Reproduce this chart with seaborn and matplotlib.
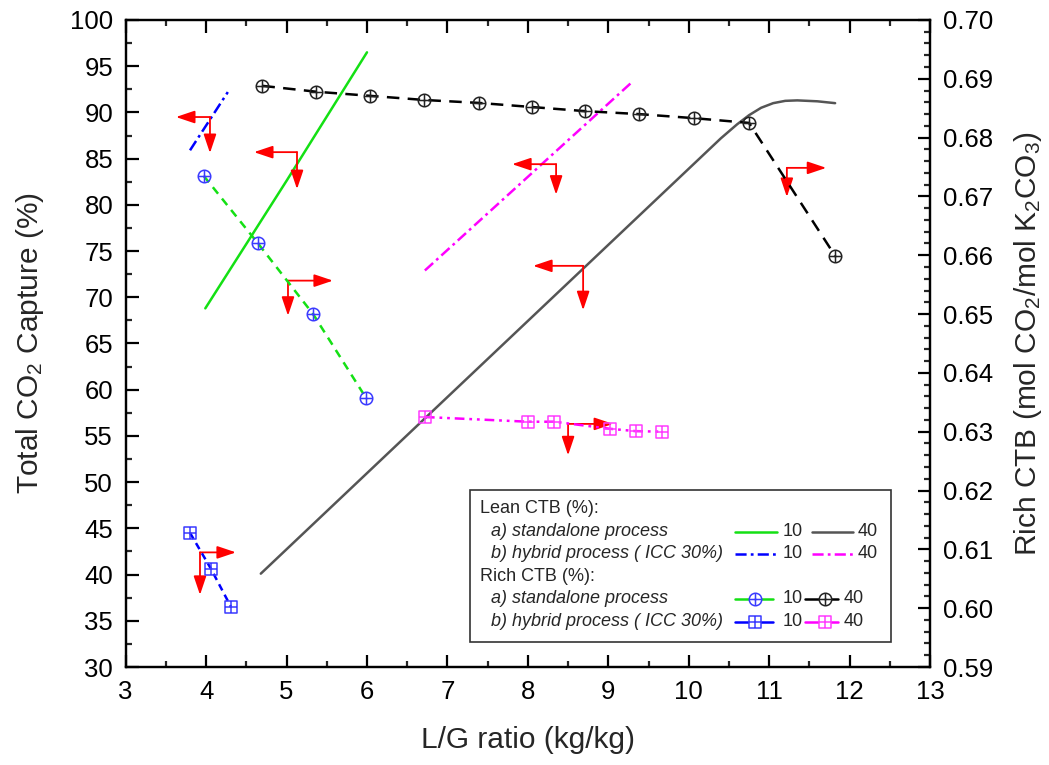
import numpy as np
import matplotlib
matplotlib.use("Agg")
import matplotlib.pyplot as plt
from matplotlib.path import Path
from matplotlib.lines import Line2D
from matplotlib.patches import Rectangle
from matplotlib.ticker import MultipleLocator
import seaborn as sns

# ---- Lean CTB (%) curves: total CO2 capture (%) vs L/G ratio ----
lean_sa10_x = [3.99, 5.00, 6.00]
lean_sa10_y = [68.8, 82.6, 96.5]
lean_sa40_x = [4.68, 9.89, 10.40, 10.60, 10.75, 10.90, 11.05, 11.20, 11.35, 11.60, 11.82]
lean_sa40_y = [40.1, 83.0, 87.2, 88.7, 89.7, 90.5, 91.0, 91.25, 91.3, 91.2, 91.0]
lean_hy10_x = [3.80, 4.27]
lean_hy10_y = [85.9, 92.2]
lean_hy40_x = [6.72, 9.31]
lean_hy40_y = [72.9, 93.4]

# ---- Rich CTB (mol CO2/mol K2CO3) vs L/G ratio ----
rich_sa10_x = [3.97, 4.64, 5.33, 5.99]
rich_sa10_y = [0.6735, 0.6621, 0.6500, 0.6357]
rich_sa40_x = [4.70, 5.37, 6.04, 6.71, 7.39, 8.05, 8.71, 9.38, 10.07, 10.75, 11.82]
rich_sa40_y = [0.6888, 0.6878, 0.6871, 0.6864, 0.6859, 0.6852, 0.6845, 0.6840,
               0.6833, 0.6825, 0.6599]
rich_hy10_x = [3.80, 4.06, 4.31]
rich_hy10_y = [0.6128, 0.6067, 0.6002]
rich_hy40_x = [6.72, 8.00, 8.33, 9.02, 9.34, 9.67]
rich_hy40_y = [0.6325, 0.6317, 0.6317, 0.6305, 0.6301, 0.6300]

# ---- axis ticks ----
x_ticks = list(range(3, 14))
left_ticks = list(range(30, 101, 5))
right_ticks = [round(0.59 + 0.01 * i, 2) for i in range(12)]

# axis indicator arrows: (corner x, corner y, horizontal tip x, vertical tip y)
indicators = [
    (4.048, 89.5, 3.625, 85.6),
    (5.13, 85.7, 4.595, 81.7),
    (5.018, 71.8, 5.577, 68.0),
    (3.924, 42.4, 4.371, 37.8),
    (8.351, 84.4, 7.804, 81.1),
    (8.687, 73.4, 8.065, 68.6),
    (8.50, 56.3, 9.06, 52.9),
    (11.22, 84.0, 11.71, 80.85),
]

sns.set_theme(style="ticks")
plt.rcParams["font.family"] = ["Liberation Sans", "DejaVu Sans"]
plt.rcParams["mathtext.default"] = "regular"
plt.rcParams["lines.scale_dashes"] = False

GREEN = "#14e014"
GREY = "#555555"
BLUE = "#0000ff"
BLUE_MK = "#3a3aff"
MAGENTA = "#ff00ff"
MAGENTA_MK = "#ff3cff"
RED = "#ff0000"

# circle with a cross, square with a cross
_cross = Path([[-1, 0], [1, 0], [0, -1], [0, 1]],
              [Path.MOVETO, Path.LINETO, Path.MOVETO, Path.LINETO])
CIRC_X = Path.make_compound_path(Path.unit_circle(), _cross)
_sq = Path([[-1, -1], [1, -1], [1, 1], [-1, 1], [-1, -1]],
           [Path.MOVETO, Path.LINETO, Path.LINETO, Path.LINETO, Path.CLOSEPOLY])
SQUARE_X = Path.make_compound_path(_sq, _cross)

fig = plt.figure(figsize=(10.49, 7.65), dpi=100)
ax = fig.add_axes([0.1198, 0.1281, 0.7668, 0.8458])
tw = ax.twinx()

DASH_GREEN = (0, (6, 4.5))
DASH_BLACK = (0, (9, 6))
DASH_DOT = (0, (8, 3, 2, 3))
DASH_SHORT = (0, (5, 3.5))
DASH_DOT_DOT = (0, (7, 3.5, 2, 3.5, 2, 3.5))

# lean curves on the capture axis
sns.lineplot(x=lean_sa10_x, y=lean_sa10_y, ax=ax, color=GREEN, lw=1.8,
             sort=False, estimator=None)
sns.lineplot(x=lean_sa40_x, y=lean_sa40_y, ax=ax, color=GREY, lw=1.8,
             sort=False, estimator=None)
sns.lineplot(x=lean_hy10_x, y=lean_hy10_y, ax=ax, color=BLUE, lw=1.8,
             linestyle=DASH_DOT, sort=False, estimator=None)
sns.lineplot(x=lean_hy40_x, y=lean_hy40_y, ax=ax, color=MAGENTA, lw=1.8,
             linestyle=DASH_DOT, sort=False, estimator=None)

mk = dict(markersize=9, markerfacecolor="none", markeredgewidth=1.1)
# rich curves on the loading axis
sns.lineplot(x=rich_sa10_x, y=rich_sa10_y, ax=tw, color=GREEN, lw=1.8,
             linestyle=DASH_GREEN, marker=CIRC_X, markeredgecolor=BLUE_MK,
             sort=False, estimator=None, **mk)
sns.lineplot(x=rich_sa40_x, y=rich_sa40_y, ax=tw, color="black", lw=1.8,
             linestyle=DASH_BLACK, marker=CIRC_X, markeredgecolor="#222222",
             sort=False, estimator=None, **mk)
sns.lineplot(x=rich_hy10_x, y=rich_hy10_y, ax=tw, color=BLUE, lw=1.8,
             linestyle=DASH_SHORT, marker=SQUARE_X, markeredgecolor=BLUE_MK,
             sort=False, estimator=None, **dict(mk, markersize=8))
sns.lineplot(x=rich_hy40_x, y=rich_hy40_y, ax=tw, color=MAGENTA, lw=1.8,
             linestyle=DASH_DOT_DOT, marker=SQUARE_X, markeredgecolor=MAGENTA_MK,
             sort=False, estimator=None, **dict(mk, markersize=8))

# axis indicator arrows
aprops = dict(arrowstyle="-|>,head_length=0.95,head_width=0.32", color=RED,
              lw=1.3, mutation_scale=12, shrinkA=0, shrinkB=0)
for cx, cy, hx, vy in indicators:
    ax.annotate("", xy=(hx, cy), xytext=(cx, cy), arrowprops=aprops)
    ax.annotate("", xy=(cx, vy), xytext=(cx, cy), arrowprops=aprops)

# axes, ticks and labels
ax.set_xlim(3, 13)
ax.set_ylim(30, 100)
tw.set_ylim(0.59, 0.70)
ax.set_xticks(x_ticks)
ax.set_yticks(left_ticks)
tw.set_yticks(right_ticks)
ax.set_xticklabels([str(v) for v in x_ticks])
ax.set_yticklabels([str(v) for v in left_ticks])
tw.set_yticklabels([f"{v:.2f}" for v in right_ticks])
ax.xaxis.set_minor_locator(MultipleLocator(0.5))
ax.yaxis.set_minor_locator(MultipleLocator(2.5))
tw.yaxis.set_minor_locator(MultipleLocator(0.002))

for a in (ax, tw):
    for s in a.spines.values():
        s.set_linewidth(1.6)
        s.set_color("black")
    a.grid(False)

ax.tick_params(axis="both", which="major", direction="in", length=9, width=1.6,
               labelsize=18.5, pad=9, colors="black", top=True, right=False)
ax.tick_params(axis="both", which="minor", direction="in", length=4.5, width=1.6,
               top=True, right=False)
tw.tick_params(axis="y", which="major", direction="in", length=9, width=1.6,
               labelsize=18.5, pad=9, colors="black")
tw.tick_params(axis="y", which="minor", direction="in", length=4.5, width=1.6)

ax.set_xlabel("L/G ratio (kg/kg)", fontsize=21.5, labelpad=16)
ax.set_ylabel("Total CO$_2$ Capture (%)", fontsize=21.5, labelpad=17)
tw.set_ylabel("Rich CTB (mol CO$_2$/mol K$_2$CO$_3$)", fontsize=21.5, labelpad=14)

# legend panel
T = tw.transAxes
tw.add_patch(Rectangle((0.4281, 0.0386), 0.5233, 0.2350, transform=T,
                       facecolor="white", edgecolor="#333333", lw=1.2, zorder=5))
fs = 13
rows_y = [0.2442, 0.2087, 0.1747, 0.1406, 0.1051, 0.0696]
tw.text(0.4402, rows_y[0], "Lean CTB (%):", transform=T, fontsize=fs, va="center", zorder=6)
tw.text(0.4542, rows_y[1], "a) standalone process", transform=T, fontsize=fs,
        style="italic", va="center", zorder=6)
tw.text(0.4542, rows_y[2], "b) hybrid process ( ICC 30%)", transform=T, fontsize=fs,
        style="italic", va="center", zorder=6)
tw.text(0.4402, rows_y[3], "Rich CTB (%):", transform=T, fontsize=fs, va="center", zorder=6)
tw.text(0.4542, rows_y[4], "a) standalone process", transform=T, fontsize=fs,
        style="italic", va="center", zorder=6)
tw.text(0.4542, rows_y[5], "b) hybrid process ( ICC 30%)", transform=T, fontsize=fs,
        style="italic", va="center", zorder=6)


def key(x0, x1, y, color, ls="-", marker=None, mcolor=None, ms=9, mx=None):
    tw.add_line(Line2D([x0, x1], [y, y], transform=T, color=color, lw=1.8,
                       linestyle=ls, zorder=6))
    if marker is not None:
        tw.add_line(Line2D([mx], [y], transform=T, linestyle="none", marker=marker,
                           markersize=ms, markerfacecolor="white",
                           markeredgecolor=mcolor, markeredgewidth=1.1, zorder=7))


def num(x, y, s):
    tw.text(x, y, s, transform=T, fontsize=fs, va="center", zorder=6)


key(0.7576, 0.8098, rows_y[1], GREEN)
num(0.8172, rows_y[1], "10")
key(0.8533, 0.9043, rows_y[1], GREY)
num(0.9105, rows_y[1], "40")
key(0.7576, 0.8098, rows_y[2], BLUE, DASH_DOT)
num(0.8172, rows_y[2], "10")
key(0.8533, 0.9043, rows_y[2], MAGENTA, DASH_DOT)
num(0.9105, rows_y[2], "40")
key(0.7576, 0.8050, rows_y[4], GREEN, "-", CIRC_X, BLUE_MK, 9, 0.7826)
num(0.8172, rows_y[4], "10")
key(0.8447, 0.8850, rows_y[4], "black", "-", CIRC_X, "#222222", 9, 0.8690)
num(0.8930, rows_y[4], "40")
key(0.7576, 0.8050, rows_y[5], BLUE, "-", SQUARE_X, BLUE_MK, 8, 0.7826)
num(0.8172, rows_y[5], "10")
key(0.8447, 0.8850, rows_y[5], MAGENTA, "-", SQUARE_X, MAGENTA_MK, 8, 0.8690)
num(0.8930, rows_y[5], "40")

fig.savefig("out.png", dpi=100, facecolor="white")
